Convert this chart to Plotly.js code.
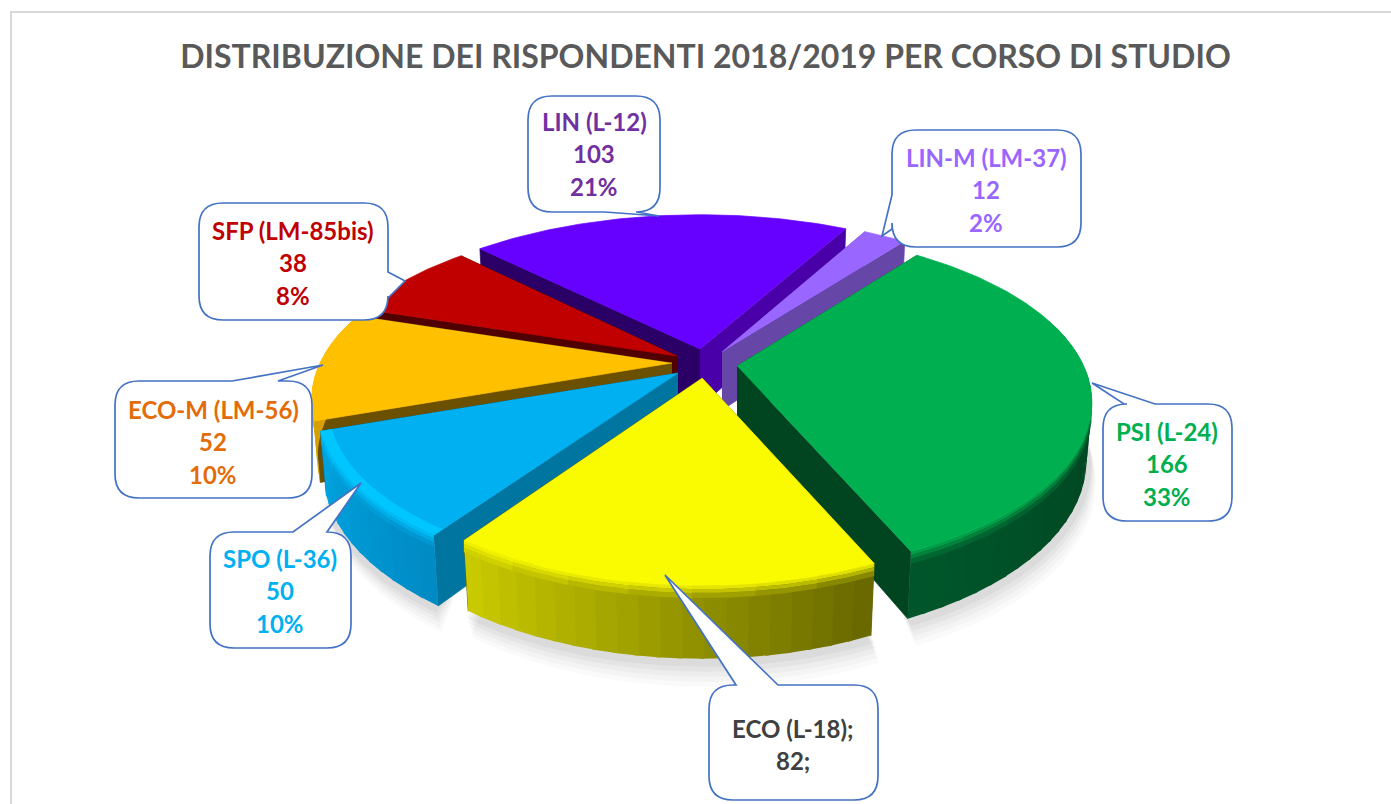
<!DOCTYPE html>
<html><head><meta charset="utf-8">
<script src="https://cdn.plot.ly/plotly-3.0.1.min.js"></script>
<style>html,body{margin:0;padding:0;background:#fff;overflow:hidden}</style>
</head><body><div id="chart" style="width:1391px;height:804px"></div>
<script>
// ---- data (clockwise from LIN-M's end) ----
const categories = ["PSI (L-24)","ECO (L-18)","SPO (L-36)","ECO-M (LM-56)","SFP (LM-85bis)","LIN (L-12)","LIN-M (LM-37)"];
const values     = [166,82,50,52,38,103,12];
const percents   = ["33%","","10%","10%","8%","21%","2%"];
const chartTitle = "DISTRIBUZIONE DEI RISPONDENTI 2018/2019 PER CORSO DI STUDIO";

// ---- styles ----
const topColors  = ["#00B050","#FAFA00","#00B0F0","#FFC000","#C00000","#6600FF","#9966FF"];
const rimColors  = ["#00B050","#FAFA00","#00C6FF","#FFC000","#C00000","#6600FF","#9966FF"];
const wallFrom   = ["#002E16","#666600","#008AC4","#D8A000","#500000","#3A0080","#6647A8"];
const wallTo     = ["#00562A","#CCCC00","#00A4E0","#D8A000","#500000","#3A0080","#6647A8"];
const cutStart   = ["#00451F","#5C5C00","#0075A0","#6B5000","#500000","#2A0066","#6647A8"];
const cutEnd     = ["#00451F","#5C5C00","#0075A0","#6B5000","#500000","#4A00A8","#6647A8"];
const labelColors= ["#00B050","#404040","#00B0F0","#E36C09","#C00000","#7030A0","#9966FF"];
const apexX = [737,702,678,672,677,700,722];
const apexY = [366,378,373,363,356,349,352];
const depth = [57,61,61,58,58,58,58];
const widthScale = [0.985,0.975,1,1,1,1.02,1];

// ---- projection of the tilted disc ----
const A=352,B=163,K=0.214,START=37.4;
const total = values.reduce((a,b)=>a+b,0);
let acc=START;
const angles = values.map(v=>{const a=[acc,acc+v/total*360];acc=a[1];return a;});
function P(i,deg,r,d){
  const t=deg*Math.PI/180,c=r*Math.cos(t),s=1/(1+K*c);
  return [apexX[i]+A*widthScale[i]*r*Math.sin(t)*s, apexY[i]-B*c*s+d*s];
}
function hex(c){
  if(c[0]==='#')return [1,3,5].map(j=>parseInt(c.substr(j,2),16));
  return c.match(/\d+/g).map(Number);
}
function mix(a,b,f){const x=hex(a),y=hex(b);return 'rgb('+x.map((v,j)=>Math.round(v+(y[j]-v)*f)).join(',')+')';}
function poly(pts,fill,lw){
  return {type:'scatter',mode:'lines',x:pts.map(p=>p[0]),y:pts.map(p=>p[1]),fill:'toself',fillcolor:fill,
    line:{color:lw===0?'rgba(0,0,0,0)':fill,width:lw===undefined?0.7:lw},hoverinfo:'skip',showlegend:false};
}
const traces=[];
function arc(i,a0,a1,r,d,st){const n=Math.max(2,Math.ceil(Math.abs(a1-a0)/(st||2))),o=[];
  for(let j=0;j<=n;j++)o.push(P(i,a0+(a1-a0)*j/n,r,d));return o;}

// soft shadow
[[20,0.018],[16,0.022],[12,0.028],[8,0.035],[4,0.04]].forEach(([off,al])=>{
  [1,2,0].forEach(i=>{
    const a0=Math.max(angles[i][0],85),a1=Math.min(angles[i][1],265);
    const low=arc(i,a0,a1,0.995,depth[i]+off).map(p=>[p[0]+off*0.3,p[1]]);
    const up=arc(i,a1,a0,0.9,depth[i]-10);
    traces.push(poly(low.concat(up),'rgba(0,0,0,'+al+')',0));
  });
});

// slices back to front
const bevel=[[0,3,0.2],[3,6,0.5],[6,10,0.8]];
[5,6,4,3,2,0,1].forEach(i=>{
  const [a0,a1]=angles[i], D=depth[i];
  // radial cut faces
  [[a0,cutStart[i]],[a1,cutEnd[i]]].forEach(([a,col])=>{
    traces.push(poly([P(i,a,0,0),P(i,a,1,0),P(i,a,0.985,D),P(i,a,0,D)],col));
  });
  // outer wall: shaded strips, each running a little under the next
  const n=Math.ceil((a1-a0)/3);
  const lo=Math.max(a0,72), hi=Math.min(a1,288);
  for(let j=0;j<n;j++){
    const b0=a0+(a1-a0)*j/n, b1=Math.min(a1,a0+(a1-a0)*(j+1)/n+0.6);
    const nm=((b0+b1)/2)%360;
    if(nm<72||nm>288)continue;
    const wc=mix(wallFrom[i],wallTo[i],(j+.5)/n);
    traces.push(poly(arc(i,b0,b1,1,0,0.8).concat(arc(i,b1,b0,0.985,D,0.8)),wc,0));
  }
  // bevel bands following the arc, in sections of about 9 degrees
  const m=Math.ceil((a1-a0)/9);
  for(let j=0;j<m;j++){
    const b0=a0+(a1-a0)*j/m, b1=Math.min(a1,a0+(a1-a0)*(j+1)/m+0.6);
    const nm=((b0+b1)/2)%360;
    if(nm<72||nm>288)continue;
    const wc=mix(wallFrom[i],wallTo[i],(j+.5)/m);
    bevel.forEach(([d0,d1,f])=>traces.push(poly(arc(i,b0,b1,1,d0,0.8).concat(arc(i,b1,b0,1,d1,0.8)),mix(rimColors[i],wc,f),0)));
  }
  // top face
  traces.push(poly([P(i,a0,0,0)].concat(arc(i,a0,a1,1,0,1)),topColors[i]));
  // bright bevel along the blue slice's rim
  if(rimColors[i]!==topColors[i]){
    traces.push(poly(arc(i,a0,a1,1,0,1).concat(arc(i,a1,a0,0.97,0,1)),rimColors[i],0));
  }
});

// ---- chrome: border + callouts ----
function callout(x0,y0,x1,y1,side,b1,tip,b2){
  const r=24;let p=`M ${x0+r} ${y0} `;
  if(side==='top')p+=`L ${b1} ${y0} L ${tip[0]} ${tip[1]} L ${b2} ${y0} `;
  p+=`L ${x1-r} ${y0} Q ${x1} ${y0} ${x1} ${y0+r} `;
  if(side==='right')p+=`L ${x1} ${b1} L ${tip[0]} ${tip[1]} L ${x1} ${b2} `;
  p+=`L ${x1} ${y1-r} Q ${x1} ${y1} ${x1-r} ${y1} `;
  if(side==='bottom')p+=`L ${b2} ${y1} L ${tip[0]} ${tip[1]} L ${b1} ${y1} `;
  p+=`L ${x0+r} ${y1} Q ${x0} ${y1} ${x0} ${y1-r} `;
  if(side==='left')p+=`L ${x0} ${b2} L ${tip[0]} ${tip[1]} L ${x0} ${b1} `;
  p+=`L ${x0} ${y0+r} Q ${x0} ${y0} ${x0+r} ${y0} Z`;
  return {type:'path',path:p,xref:'x',yref:'y',fillcolor:'#FFFFFF',line:{color:'#4472C4',width:1.7},layer:'above'};
}
const shapes=[
  {type:'line',xref:'x',yref:'y',x0:11,x1:11,y0:12,y1:804,line:{color:'#D9D9D9',width:2},layer:'below'},
  {type:'line',xref:'x',yref:'y',x0:10,x1:1391,y0:12,y1:12,line:{color:'#D9D9D9',width:2},layer:'below'},
  callout(528,96,660,212,'bottom',605,[659,216],637),
  callout(892,130,1081,247,'left',195,[882,236],229),
  callout(199,203,388,320,'right',272,[405,281],298),
  callout(115,381,312,498,'top',232,[323,365],278),
  callout(210,532,351,648,'top',293,[361,483],327),
  callout(1103,404,1232,521,'top',1124,[1092,383],1155),
  callout(709,685,878,800,'top',736,[665,575],778)
];
// label anchors
const labelX=[1167,793,280,213,293,594,986];
const labelY=[431,728,558,409,230,121,157];
const annotations=[];
const FS=24;
categories.forEach((c,i)=>{
  const lines = i===1 ? [c+";",values[i]+";"] : [c,String(values[i]),percents[i]];
  lines.forEach((t,j)=>annotations.push({xref:'x',yref:'y',x:labelX[i],y:labelY[i]+j*32.5,text:'<b>'+t+'</b>',showarrow:false,
    xanchor:'center',yanchor:'middle',font:{family:'Lato, Carlito, sans-serif',size:FS,color:labelColors[i]}}));
});

Plotly.newPlot('chart',traces,{
  width:1391,height:804,margin:{l:0,r:0,t:0,b:0},paper_bgcolor:'#FFFFFF',plot_bgcolor:'#FFFFFF',showlegend:false,
  title:{text:'<b>'+chartTitle+'</b>',x:705.5/1391,xanchor:'center',y:1-57/804,yanchor:'middle',
    font:{family:'Lato, Carlito, sans-serif',size:32,color:'#595959'}},
  xaxis:{range:[0,1391],visible:false,fixedrange:true},
  yaxis:{range:[804,0],visible:false,fixedrange:true},
  shapes,annotations
},{staticPlot:true,displayModeBar:false});
</script></body></html>
